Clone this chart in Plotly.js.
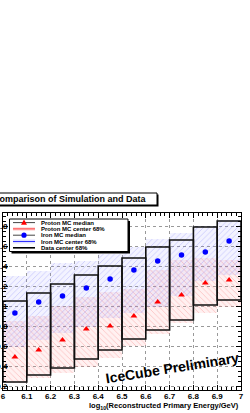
<!DOCTYPE html>
<html>
<head>
<meta charset="utf-8">
<script src="https://cdn.plot.ly/plotly-3.0.1.min.js"></script>
<style>html,body{margin:0;padding:0;background:#fff;}#chart{width:250px;height:413px;}</style>
</head>
<body>
<div id="chart"></div>
<script>
// ---- data ----
const binCenters = [6.05, 6.15, 6.25, 6.35, 6.45, 6.55, 6.65, 6.75, 6.85, 6.95];
const dataLow    = [0.24, 0.31, 0.38, 0.47, 0.56, 0.67, 0.76, 0.86, 1.01, 1.06];
const dataHigh   = [1.05, 1.13, 1.22, 1.31, 1.40, 1.48, 1.59, 1.66, 1.79, 1.85];
const ironMedian   = [0.93, 1.04, 1.10, 1.18, 1.27, 1.36, 1.45, 1.51, 1.54, 1.65];
const protonMedian = [0.49, 0.56, 0.66, 0.77, 0.80, 0.90, 1.04, 1.11, 1.23, 1.26];
const ironLow    = [0.59, 0.66, 0.73, 0.79, 0.88, 0.93, 0.99, 1.10, 1.25, 1.31];
const ironHigh   = [1.30, 1.35, 1.43, 1.45, 1.52, 1.59, 1.67, 1.73, 1.80, 1.86];
const protonLow  = [0.23, 0.28, 0.33, 0.39, 0.48, 0.60, 0.72, 0.83, 0.93, 0.99];
const protonHigh = [0.85, 0.90, 1.00, 1.09, 1.14, 1.17, 1.36, 1.46, 1.48, 1.46];
const xTickVals = [6, 6.1, 6.2, 6.3, 6.4, 6.5, 6.6, 6.7, 6.8, 6.9, 7];
const xTickText = ['6', '6.1', '6.2', '6.3', '6.4', '6.5', '6.6', '6.7', '6.8', '6.9', '7'];
const yTickVals = [0.2, 0.4, 0.6, 0.8, 1.0, 1.2, 1.4, 1.6, 1.8];
const yTickText = ['0.2', '0.4', '0.6', '0.8', '1', '1.2', '1.4', '1.6', '1.8'];
const legendLabels = ['Proton MC median', 'Proton MC center 68%', 'Iron MC median', 'Iron MC center 68%', 'Data center 68%'];
const titleText = 'Comparison of Simulation and Data';
const xTitleText = 'log<sub>10</sub>(Reconstructed Primary Energy/GeV)';
const watermark = 'IceCube Preliminary';

// ---- layout helpers ----
const W = 250, H = 413, M = {l: 3, r: 9, t: 213, b: 23};
const pw = W - M.l - M.r, ph = H - M.t - M.b;
const px = x => (x - M.l) / pw;
const py = y => (H - M.b - y) / ph;
const diff = (hi, lo) => hi.map((v, i) => v - lo[i]);
const FONT = 'Liberation Sans, Arial, Helvetica, sans-serif';

const traces = [
  {type: 'bar', x: binCenters, y: diff(protonHigh, protonLow), base: protonLow, width: 0.1,
   marker: {color: 'rgba(255,140,140,0.14)', line: {width: 0},
            pattern: {shape: '\\', fgcolor: 'rgba(245,90,90,0.3)', bgcolor: 'rgba(255,160,160,0.15)', size: 4, solidity: 0.22}},
   showlegend: false, hoverinfo: 'skip'},
  {type: 'bar', x: binCenters, y: diff(ironHigh, ironLow), base: ironLow, width: 0.1,
   marker: {color: 'rgba(140,140,255,0.1)', line: {width: 0},
            pattern: {shape: '/', fgcolor: 'rgba(100,100,245,0.28)', bgcolor: 'rgba(160,160,255,0.12)', size: 4, solidity: 0.22}},
   showlegend: false, hoverinfo: 'skip'},
  {type: 'bar', x: binCenters, y: diff(dataHigh, dataLow), base: dataLow, width: 0.1,
   marker: {color: 'rgba(0,0,0,0)', line: {color: '#111', width: 1.6}},
   showlegend: false, hoverinfo: 'skip'},
  {type: 'scatter', mode: 'markers', x: binCenters, y: protonMedian,
   marker: {symbol: 'triangle-up', color: '#ff0000', size: 6}, showlegend: false},
  {type: 'scatter', mode: 'markers', x: binCenters, y: ironMedian,
   marker: {symbol: 'circle', color: '#0000ff', size: 5.5}, showlegend: false}
];

const shapes = [];
const annotations = [];

// title box
shapes.push({type: 'rect', xref: 'paper', yref: 'paper', x0: px(-5), x1: px(158.5), y0: py(206.5), y1: py(194.5),
             fillcolor: '#000', line: {width: 0}});
shapes.push({type: 'rect', xref: 'paper', yref: 'paper', x0: px(-5), x1: px(157), y0: py(205), y1: py(193),
             fillcolor: '#fff', line: {color: '#000', width: 1}});
annotations.push({text: '<b>' + titleText + '</b>', xref: 'paper', yref: 'paper', x: px(149), y: py(199.3),
                  xanchor: 'right', yanchor: 'middle', showarrow: false, font: {family: FONT, size: 9, color: '#000'}});

// legend box
shapes.push({type: 'rect', xref: 'paper', yref: 'paper', x0: px(11.5), x1: px(130), y0: py(253.5), y1: py(221),
             fillcolor: '#000', line: {width: 0}});
shapes.push({type: 'rect', xref: 'paper', yref: 'paper', x0: px(9.5), x1: px(128), y0: py(251.5), y1: py(219),
             fillcolor: '#fff', line: {color: '#000', width: 1}});
const rows = [222.6, 228.9, 235.2, 241.5, 247.8];
const lx0 = 13, lx1 = 35, lxc = 24;
shapes.push({type: 'line', xref: 'paper', yref: 'paper', x0: px(lx0), x1: px(lx1), y0: py(rows[0]), y1: py(rows[0]), line: {color: '#444', width: 1}});
shapes.push({type: 'path', xref: 'paper', yref: 'paper',
             path: `M ${px(lxc - 3)} ${py(rows[0] + 2.2)} L ${px(lxc + 3)} ${py(rows[0] + 2.2)} L ${px(lxc)} ${py(rows[0] - 3)} Z`,
             fillcolor: '#ff0000', line: {width: 0}});
shapes.push({type: 'rect', xref: 'paper', yref: 'paper', x0: px(lx0), x1: px(lx1), y0: py(rows[1] + 2), y1: py(rows[1] - 2),
             fillcolor: 'rgba(255,150,150,0.3)', line: {width: 0}});
shapes.push({type: 'line', xref: 'paper', yref: 'paper', x0: px(lx0), x1: px(lx1), y0: py(rows[1]), y1: py(rows[1]), line: {color: '#ff3030', width: 1}});
shapes.push({type: 'line', xref: 'paper', yref: 'paper', x0: px(lx0), x1: px(lx1), y0: py(rows[2]), y1: py(rows[2]), line: {color: '#444', width: 1}});
shapes.push({type: 'circle', xref: 'paper', yref: 'paper', x0: px(lxc - 2.6), x1: px(lxc + 2.6), y0: py(rows[2] + 2.6), y1: py(rows[2] - 2.6),
             fillcolor: '#0000ff', line: {width: 0}});
shapes.push({type: 'rect', xref: 'paper', yref: 'paper', x0: px(lx0), x1: px(lx1), y0: py(rows[3] + 2), y1: py(rows[3] - 2),
             fillcolor: 'rgba(150,150,255,0.3)', line: {width: 0}});
shapes.push({type: 'line', xref: 'paper', yref: 'paper', x0: px(lx0), x1: px(lx1), y0: py(rows[3]), y1: py(rows[3]), line: {color: '#3030ff', width: 1}});
shapes.push({type: 'line', xref: 'paper', yref: 'paper', x0: px(lx0), x1: px(lx1), y0: py(rows[4]), y1: py(rows[4]), line: {color: '#000', width: 1.6}});
legendLabels.forEach((t, i) => {
  annotations.push({text: '<b>' + t + '</b>', xref: 'paper', yref: 'paper', x: px(39), y: py(rows[i]),
                    xanchor: 'left', yanchor: 'middle', showarrow: false, font: {family: FONT, size: 6, color: '#000'}});
});

// x-axis title
annotations.push({text: '<b>' + xTitleText + '</b>', xref: 'paper', yref: 'paper', x: 1, y: py(406),
                  xanchor: 'right', yanchor: 'middle', showarrow: false, font: {family: FONT, size: 7.5, color: '#000'}});
// watermark
annotations.push({text: '<b>' + watermark + '</b>', xref: 'paper', yref: 'paper', x: px(172), y: py(368),
                  xanchor: 'center', yanchor: 'middle', textangle: -9, showarrow: false, font: {family: FONT, size: 14, color: '#000'}});

const axisCommon = {
  showline: true, linecolor: '#000', linewidth: 1, mirror: 'allticks',
  ticks: 'inside', ticklen: 5, tickcolor: '#000', tickwidth: 1,
  showgrid: true, gridcolor: '#999', griddash: 'dot', gridwidth: 1,
  zeroline: false, tickfont: {family: FONT, size: 8, color: '#000', weight: 'bold'}
};

const layout = {
  width: W, height: H, margin: M,
  paper_bgcolor: '#fff', plot_bgcolor: '#fff',
  barmode: 'overlay', bargap: 0, showlegend: false,
  xaxis: Object.assign({}, axisCommon, {range: [6, 7], tickmode: 'array', tickvals: xTickVals, ticktext: xTickText,
         ticklabelstandoff: -2,
         minor: {dtick: 0.02, ticks: 'inside', ticklen: 3, tickcolor: '#000', showgrid: false}}),
  yaxis: Object.assign({}, axisCommon, {range: [0.16, 1.93], tickmode: 'array', tickvals: yTickVals, ticktext: yTickText,
         ticklabelstandoff: -7,
         minor: {dtick: 0.05, tick0: 0, ticks: 'inside', ticklen: 3, tickcolor: '#000', showgrid: false}}),
  shapes: shapes, annotations: annotations
};

Plotly.newPlot('chart', traces, layout, {staticPlot: true, displayModeBar: false});
</script>
</body>
</html>
